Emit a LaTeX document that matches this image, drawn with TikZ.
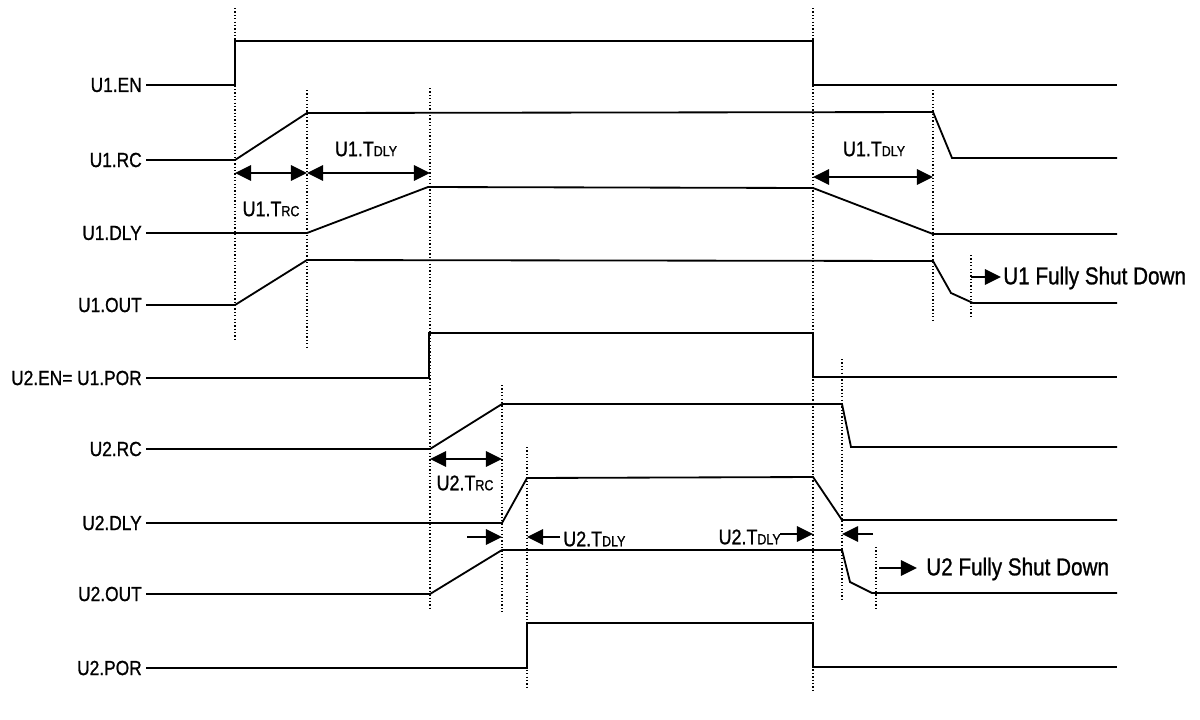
\documentclass[tikz,border=0pt]{standalone}
\usepackage{fontspec}
\setmainfont[FakeStretch=0.85,FakeBold=1.0]{Liberation Sans}
\usetikzlibrary{arrows.meta}
\begin{document}
\begin{tikzpicture}[x=0.025cm,y=-0.025cm,
  sig/.style={line width=1.3pt,line join=miter},
  guide/.style={line width=0.9pt,dash pattern=on 0.9pt off 1.5pt},
  siglabel/.style={anchor=east,inner sep=0pt,font=\fontsize{14.5}{15}\selectfont},
  tlabel/.style={inner sep=0pt,font=\fontsize{15}{16}\selectfont},
  flabel/.style={anchor=west,inner sep=0pt,font=\fontsize{17.3}{18}\selectfont},
  dim/.style={line width=1.3pt,{Triangle[length=11.5pt,width=11pt]}-{Triangle[length=11.5pt,width=11pt]}},
  onearrow/.style={line width=1.3pt,-{Triangle[length=11.5pt,width=11pt]}}]
\useasboundingbox (0,0) rectangle (1200,719);
\newcommand{\subtxt}[1]{{\fontsize{10.4}{11}\selectfont #1}}
% guide lines
\draw[guide] (235,8) -- (235,342);
\draw[guide] (307,90) -- (307,348);
\draw[guide] (430,88) -- (430,610);
\draw[guide] (813,8) -- (813,690);
\draw[guide] (933,90) -- (933,320);
\draw[guide] (971,255) -- (971,317);
\draw[guide] (502,385) -- (502,612);
\draw[guide] (527,447) -- (527,688);
\draw[guide] (842,359) -- (842,600);
\draw[guide] (876,547) -- (876,610);
% labels
\node[siglabel] (l1) at (142,85) {U1.EN};
\node[siglabel] (l2) at (142,160) {U1.RC};
\node[siglabel] (l3) at (142,233) {U1.DLY};
\node[siglabel] (l4) at (142,305) {U1.OUT};
\node[siglabel] (l5) at (142,378) {U2.EN= U1.POR};
\node[siglabel] (l6) at (142,449) {U2.RC};
\node[siglabel] (l7) at (142,523) {U2.DLY};
\node[siglabel] (l8) at (142,594) {U2.OUT};
\node[siglabel] (l9) at (142,668) {U2.POR};
% waveforms
\draw[sig] (l1.east) ++(4,0) -- (235,85) -- (235,41) -- (813,41) -- (813,85) -- (1117,85);
\draw[sig] (l2.east) ++(4,0) -- (235,160) -- (307,113) -- (933,112) -- (952,158) -- (1117,158);
\draw[sig] (l3.east) ++(4,0) -- (307,233) -- (428,187) -- (813,188) -- (933,234) -- (1117,234);
\draw[sig] (l4.east) ++(4,0) -- (235,305) -- (307,260) -- (933,261) -- (951,293) -- (973,303) -- (1117,303);
\draw[sig] (l5.east) ++(4,0) -- (429,378) -- (429,333) -- (813,333) -- (813,377) -- (1117,377);
\draw[sig] (l6.east) ++(4,0) -- (430,449) -- (502,404) -- (842,404) -- (851,447) -- (1117,447);
\draw[sig] (l7.east) ++(4,0) -- (502,523) -- (527,478) -- (813,477) -- (842,520) -- (1117,520);
\draw[sig] (l8.east) ++(4,0) -- (430,594) -- (502,550) -- (842,550) -- (850,582) -- (872,593) -- (1117,593);
\draw[sig] (l9.east) ++(4,0) -- (527,668) -- (527,623) -- (813,623) -- (813,667) -- (1117,667);
% timing annotations
\coordinate (a1) at (235,173); \coordinate (a2) at (307,173); \coordinate (a3) at (430,173);
\draw[dim] (a1) -- (a2);
\draw[dim] (a2) -- (a3);
\node[tlabel] (t1) at (271,209) {U1.T\subtxt{RC}};
\node[tlabel] (t2) at (366,149) {U1.T\subtxt{DLY}};
\coordinate (a4) at (813,177); \coordinate (a5) at (933,177);
\draw[dim] (a4) -- (a5);
\node[tlabel] (t3) at (874,149) {U1.T\subtxt{DLY}};
\coordinate (a6) at (430,459); \coordinate (a7) at (502,459);
\draw[dim] (a6) -- (a7);
\node[tlabel] (t4) at (465,483) {U2.T\subtxt{RC}};
\coordinate (b1) at (467,537); \coordinate (b2) at (502,537);
\draw[onearrow] (b1) -- (b2);
\coordinate (b3) at (560,537); \coordinate (b4) at (527,537);
\draw[onearrow] (b3) -- (b4);
\node[tlabel,anchor=west] (t5) at (563,539) {U2.T\subtxt{DLY}};
\node[tlabel,anchor=east] (t6) at (781,537) {U2.T\subtxt{DLY}};
\coordinate (b5) at (780,534); \coordinate (b6) at (813,534);
\draw[onearrow] (b5) -- (b6);
\coordinate (b7) at (873,534); \coordinate (b8) at (842,534);
\draw[onearrow] (b7) -- (b8);
% shut down markers
\coordinate (c1) at (971,277); \coordinate (c2) at (1001,277);
\draw[onearrow] (c1) -- (c2);
\node[flabel] (f1) at (1003,278) {U1 Fully Shut Down};
\coordinate (c3) at (879,568); \coordinate (c4) at (917,568);
\draw[onearrow] (c3) -- (c4);
\node[flabel] (f2) at (926,569) {U2 Fully Shut Down};
\end{tikzpicture}
\end{document}
